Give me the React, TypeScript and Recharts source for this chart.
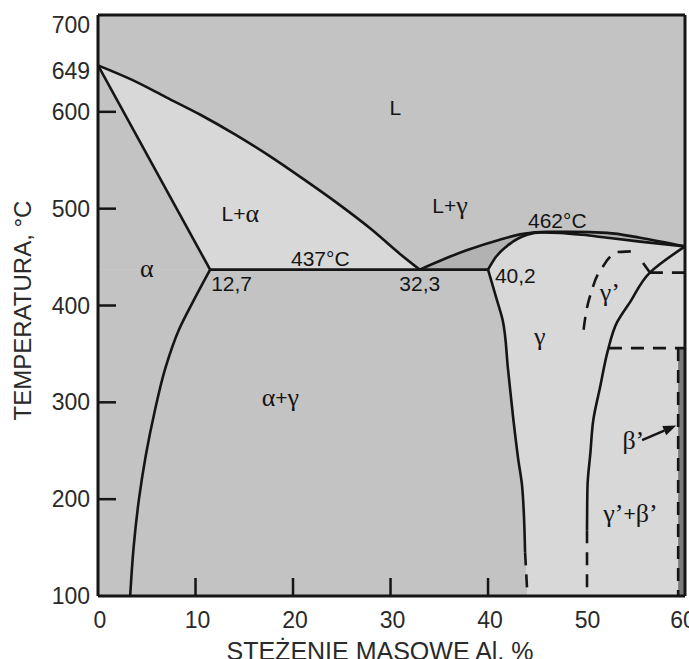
import React from 'react';
import {
  ComposedChart,
  XAxis,
  YAxis,
  CartesianGrid,
  Area,
  Line,
  ReferenceLine,
  ReferenceDot,
} from 'recharts';

type Pt = [number, number]; // [Al wt%, temperature °C]
type CurveKind = 'monotone' | 'monotoneY' | 'linear';

// axis ticks
const xTicks = [0, 10, 20, 30, 40, 50, 60];
const yTicks = [100, 200, 300, 400, 500, 600, 649, 700];
const xTickMarks = [10, 20, 30, 40];
const yTickMarks = [200, 300, 400, 500, 600];

// phase boundaries
const liquidusAlpha: Pt[] = [[0, 648], [3.5, 633], [7, 615], [10.5, 597], [14, 577], [17.5, 555], [21, 531], [24.5, 506], [28, 479], [31, 453], [33, 437]];
const solidusAlpha: Pt[] = [[0, 648], [11.5, 437]];
const solvusAlpha: Pt[] = [[3.3, 100], [3.65, 150], [4.2, 200], [4.9, 245], [5.8, 290], [6.9, 335], [8.3, 375], [9.8, 405], [11.5, 437]];
const eutectic: Pt[] = [[11.5, 437], [40, 437]];
const liquidusGamma: Pt[] = [[33, 437], [35.5, 448], [37.8, 457], [41.2, 468], [43.6, 474], [46, 476], [48.7, 476], [52.2, 475], [55.6, 470], [60.2, 461]];
const solidusGamma: Pt[] = [[40, 437], [40.8, 450], [41.9, 461], [44, 473], [45.5, 475.5], [47.4, 475], [49.7, 473], [52.2, 470], [55.6, 466], [60.2, 461]];
const solvusGammaLeft: Pt[] = [[40, 437], [40.9, 406], [41.5, 385], [42.05, 334], [42.6, 282], [43.1, 241], [43.5, 213], [43.8, 145]];
const solvusGammaLeftDash: Pt[] = [[43.8, 145], [44, 108]];
const solvusGammaRight: Pt[] = [[50.15, 168], [50.2, 213], [50.5, 248], [50.8, 282], [51.5, 316], [52.3, 354], [53.2, 382], [54.6, 404], [56.6, 434], [60.2, 461]];
const solvusGammaRightDash: Pt[] = [[50.15, 168], [50.15, 100]];
const gammaPrimeDash: Pt[] = [[49.8, 375], [50.5, 411], [51.7, 439], [53.2, 455], [54.8, 456]];
const branchStub: Pt[] = [[55.9, 444], [56.6, 434]];
const dash434: Pt[] = [[56.6, 434], [60.2, 434]];
const dash356: Pt[] = [[52.4, 356], [60.2, 356]];
const betaDash: Pt[] = [[59.5, 356], [59.5, 100]];
const betaStrip: Pt[] = [[59.5, 356], [60.2, 356]];
const betaArrow: Pt[] = [[55.8, 261], [59.3, 276]];

// region labels
const labelTexts = ['L', 'L+α', 'α', '437°C', '12,7', '32,3', '40,2', 'L+γ', '462°C', "γ'", 'γ', 'α+γ', "β'", "γ'+β'"];
const labelX = [30.5, 14.6, 5.0, 22.8, 13.7, 33, 42.8, 36.1, 47.1, 52.5, 45.3, 18.7, 54.9, 54.6];
const labelT = [605, 496, 439, 449, 423, 423, 432, 504, 488, 414, 368, 305, 261, 186];

const W = 689;
const H = 659;
const Y_AXIS_W = 98;
const X_AXIS_H = 63;
const PLOT_LEFT = Y_AXIS_W;
const PLOT_BOTTOM = H - X_AXIS_H;

const INK = '#151515';
const TEXT = '#2a2a2a';
const BG = '#c3c3c3';
const LIGHT = '#d8d8d8';
const DARK = '#b2b2b2';
const STRIP = '#7a7a7a';
const SANS = '"Liberation Sans", Arial, sans-serif';
const SERIF = '"Liberation Serif", "Times New Roman", serif';

const rows = (pts: Pt[]) => pts.map(([x, t]) => ({ x, t }));

const YTick = (props: any) => {
  const { x, y, payload } = props;
  const v = payload.value;
  const dy = v === 700 ? 18 : v === 649 ? 15 : 8;
  return (
    <g>
      <text x={x} y={y + dy} textAnchor="end" fontFamily={SANS} fontSize={23} fill={TEXT}>
        {v}
      </text>
      {yTickMarks.includes(v) && (
        <line x1={PLOT_LEFT} x2={PLOT_LEFT + 18} y1={y} y2={y} stroke={INK} strokeWidth={2.5} />
      )}
    </g>
  );
};

const XTick = (props: any) => {
  const { x, y, payload } = props;
  const v = payload.value;
  return (
    <g>
      <text x={x + 2} y={y + 32} textAnchor="middle" fontFamily={SANS} fontSize={23} fill={TEXT}>
        {v}
      </text>
      {xTickMarks.includes(v) && (
        <line x1={x} x2={x} y1={PLOT_BOTTOM} y2={PLOT_BOTTOM - 18} stroke={INK} strokeWidth={2.5} />
      )}
    </g>
  );
};

const splitRuns = (s: string) => {
  const out: { s: string; serif: boolean }[] = [];
  for (const ch of s) {
    const serif = /[αβγ']/.test(ch);
    const last = out[out.length - 1];
    if (last && last.serif === serif) last.s += ch;
    else out.push({ s: ch, serif });
  }
  return out;
};

const RichLabel = ({ viewBox, text }: any) => (
  <text x={viewBox.x} y={viewBox.y} textAnchor="middle" dominantBaseline="central" fill={INK}>
    {splitRuns(text).map((r, i) => (
      <tspan key={i} fontFamily={r.serif ? SERIF : SANS} fontSize={r.serif ? 26 : 21}>
        {r.s.replace(/'/g, '’')}
      </tspan>
    ))}
  </text>
);

const ArrowShape = (props: any) => {
  const { x1, y1, x2, y2 } = props;
  const a = Math.atan2(y2 - y1, x2 - x1);
  const len = 13;
  const hw = 5;
  const bx = x2 - len * Math.cos(a);
  const by = y2 - len * Math.sin(a);
  const px = -Math.sin(a) * hw;
  const py = Math.cos(a) * hw;
  return (
    <g>
      <line x1={x1} y1={y1} x2={bx} y2={by} stroke={INK} strokeWidth={2.5} />
      <polygon points={`${x2},${y2} ${bx + px},${by + py} ${bx - px},${by - py}`} fill={INK} />
    </g>
  );
};

const fillArea = (pts: Pt[], base: number, color: string, type: CurveKind = 'monotone') => (
  <Area
    data={rows(pts)}
    dataKey="t"
    type={type}
    baseValue={base}
    fill={color}
    fillOpacity={1}
    stroke="none"
    dot={false}
    activeDot={false}
    isAnimationActive={false}
  />
);

const curve = (pts: Pt[], type: CurveKind = 'monotone', dashed = false) => (
  <Line
    data={rows(pts)}
    dataKey="t"
    type={type}
    stroke={INK}
    strokeWidth={2.6}
    strokeDasharray={dashed ? '13 9' : undefined}
    dot={false}
    activeDot={false}
    isAnimationActive={false}
  />
);

export default function App() {
  return (
    <div style={{ position: 'absolute', left: 0, top: 0, background: '#fff' }}>
      <ComposedChart width={W} height={H} margin={{ top: 15, right: 4, bottom: 0, left: 0 }}>
        <CartesianGrid fill={BG} horizontal={false} vertical={false} stroke="none" />
        <XAxis
          type="number"
          dataKey="x"
          domain={[0, 60.2]}
          ticks={xTicks}
          allowDataOverflow
          height={X_AXIS_H}
          tickSize={0}
          tickMargin={0}
          tickLine={false}
          axisLine={{ stroke: INK, strokeWidth: 3 }}
          tick={<XTick />}
          label={{
            content: (p: any) => (
              <text
                x={p.viewBox.x + 282}
                y={p.viewBox.y + 64}
                textAnchor="middle"
                fontFamily={SANS}
                fontSize={25}
                fill={TEXT}
              >
                STĘŻENIE MASOWE Al, %
              </text>
            ),
          }}
        />
        <YAxis
          type="number"
          domain={[100, 700]}
          ticks={yTicks}
          allowDataOverflow
          width={Y_AXIS_W}
          tickSize={0}
          tickMargin={8}
          tickLine={false}
          axisLine={{ stroke: INK, strokeWidth: 3 }}
          tick={<YTick />}
          label={{
            content: (p: any) => {
              const cy = p.viewBox.y + p.viewBox.height / 2 + 5;
              return (
                <text
                  transform={`translate(31, ${cy}) rotate(-90)`}
                  textAnchor="middle"
                  fontFamily={SANS}
                  fontSize={24}
                  fill={TEXT}
                >
                  TEMPERATURA, °C
                </text>
              );
            },
          }}
        />

        {/* regions, painted back to front */}
        {fillArea(liquidusAlpha, 437, LIGHT)}
        {fillArea(solidusAlpha, 437, BG, 'linear')}
        {fillArea(liquidusGamma, 437, DARK)}
        {fillArea(solidusGamma, 100, LIGHT)}
        {fillArea([...solvusGammaLeft, ...solvusGammaLeftDash.slice(1)], 100, BG, 'monotoneY')}
        {fillArea(betaStrip, 100, STRIP, 'linear')}

        {/* boundaries */}
        {curve(liquidusAlpha)}
        {curve(solidusAlpha, 'linear')}
        {curve(solvusAlpha, 'monotoneY')}
        {curve(eutectic, 'linear')}
        {curve(liquidusGamma)}
        {curve(solidusGamma)}
        {curve(solvusGammaLeft, 'monotoneY')}
        {curve(solvusGammaLeftDash, 'linear', true)}
        {curve(solvusGammaRight, 'monotoneY')}
        {curve(solvusGammaRightDash, 'linear', true)}
        {curve(gammaPrimeDash, 'monotoneY', true)}
        {curve(branchStub, 'linear')}
        {curve(dash434, 'linear', true)}
        {curve(dash356, 'linear', true)}
        {curve(betaDash, 'linear', true)}

        <ReferenceLine y={700} stroke={INK} strokeWidth={3} ifOverflow="visible" />
        <ReferenceLine x={60.2} stroke={INK} strokeWidth={3} ifOverflow="visible" />
        <ReferenceLine
          segment={[
            { x: betaArrow[0][0], y: betaArrow[0][1] },
            { x: betaArrow[1][0], y: betaArrow[1][1] },
          ]}
          ifOverflow="visible"
          shape={(p: any) => <ArrowShape {...p} />}
        />

        {labelTexts.map((s, i) => (
          <ReferenceDot
            key={i}
            x={labelX[i]}
            y={labelT[i]}
            r={0}
            fill="none"
            stroke="none"
            ifOverflow="visible"
            label={(p: any) => <RichLabel viewBox={p.viewBox} text={s} />}
          />
        ))}
      </ComposedChart>
    </div>
  );
}
